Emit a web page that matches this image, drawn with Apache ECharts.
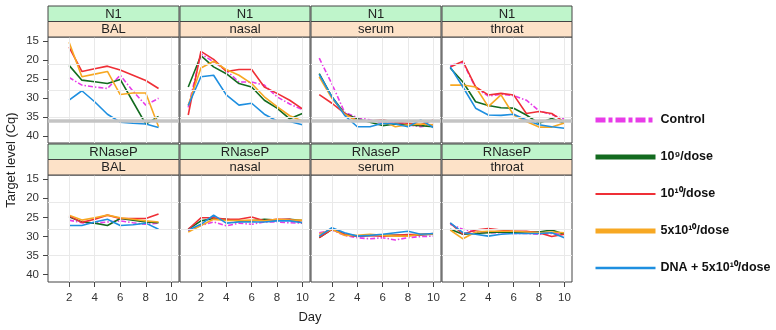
<!DOCTYPE html>
<html>
<head>
<meta charset="utf-8">
<title>Target level by day</title>
<script src="https://cdn.jsdelivr.net/npm/echarts@6/dist/echarts.min.js"></script>
<style>
  html, body { margin: 0; padding: 0; background: #fff; }
  #main { width: 776px; height: 330px; }
</style>
</head>
<body>
<div id="main"></div>
<script>
// data
var days = [1, 2, 3, 4, 5, 6, 7, 8, 9, 10];
var groups = ['Control', '10⁹/dose', '10¹⁰/dose', '5x10¹⁰/dose', 'DNA + 5x10¹⁰/dose'];
var targets = ['N1', 'RNaseP'];
var sites = ['BAL', 'nasal', 'serum', 'throat'];
var xTicks = [2, 4, 6, 8, 10];
var yTicks = [15, 20, 25, 30, 35, 40];
var hGrid = [21, 28, 35];
var lod = 36;

// rows: Control, 10^9, 10^10, 5x10^10, DNA + 5x10^10
var n1Bal = [
    [null, 24.6, 26.6, 27.1, 27.5, 24.0, 28.2, 31.9, 30.1, null],
    [null, 21.4, 25.3, 25.7, 26.2, 25.1, 31.0, 36.9, 34.9, null],
    [null, 16.6, 23.0, 22.3, 21.6, 22.6, 24.0, 25.4, 27.5, null],
    [null, 15.3, 24.4, 23.7, 23.0, 29.1, 28.7, 28.7, 37.6, null],
    [null, 30.6, 28.1, 31.0, 34.3, 36.4, 36.7, 36.9, 37.8, null]
];
var n1Nasal = [
    [32.5, 18.3, 20.5, 22.7, 25.8, 25.8, 26.6, 29.7, 31.6, 33.1],
    [27.1, 18.8, 21.8, 23.6, 26.2, 27.1, 30.6, 32.7, 35.5, 34.1],
    [34.5, 17.7, 19.8, 23.0, 22.5, 22.5, 27.1, 28.8, 30.6, 32.9],
    [31.9, 22.1, 20.3, 22.5, 24.0, 26.2, 29.7, 32.3, 34.7, 36.1],
    [32.0, 24.4, 24.0, 29.2, 31.9, 31.4, 34.3, 36.1, 36.2, 37.1]
];
var n1Serum = [
    [19.5, 26.3, 33.8, 35.2, 35.8, 36.7, 36.4, 37.1, 37.6, 37.0],
    [23.6, 29.7, 34.1, 35.5, 36.4, 37.3, 36.9, 37.1, 37.3, 37.6],
    [29.1, 31.4, 34.1, 36.1, 36.1, 35.8, 36.4, 36.7, 37.1, 35.8],
    [24.4, 30.1, 34.3, 36.1, 36.1, 36.1, 37.6, 37.1, 36.9, 37.1],
    [23.8, 29.7, 34.6, 37.6, 37.6, 36.7, 36.9, 37.6, 35.8, 37.8]
];
var n1Throat = [
    [21.4, 20.6, 27.3, 29.5, 29.0, 29.4, 30.6, 33.4, 34.4, 35.6],
    [22.1, 25.8, 31.0, 32.0, 32.6, 32.7, 34.5, 36.7, 35.4, 36.7],
    [21.8, 20.3, 27.1, 29.2, 28.8, 29.2, 34.1, 33.6, 34.1, 36.4],
    [26.6, 26.6, 27.1, 32.3, 29.2, 34.5, 36.2, 37.7, 37.7, 36.6],
    [21.8, 27.1, 32.7, 34.5, 34.6, 34.3, 35.8, 37.1, 37.6, 38.0]
];
var rnBal = [
    [null, 25.7, 26.4, 26.5, 26.2, 25.9, 26.4, 26.8, 26.5, null],
    [null, 24.8, 26.2, 26.5, 27.1, 25.3, 25.7, 26.2, 26.4, null],
    [null, 24.6, 26.3, 25.5, 24.4, 25.3, 25.3, 25.3, 24.1, null],
    [null, 24.4, 25.7, 25.1, 24.4, 25.1, 25.5, 25.9, 26.2, null],
    [null, 27.1, 27.1, 26.2, 25.5, 27.1, 26.9, 26.5, 28.1, null]
];
var rnNasal = [
    [28.5, 27.1, 26.2, 27.2, 26.5, 26.8, 26.2, 26.2, 26.4, 26.5],
    [28.1, 25.9, 25.3, 25.5, 25.9, 25.9, 25.5, 25.7, 25.5, 25.8],
    [28.1, 25.1, 25.1, 25.5, 25.5, 24.9, 25.9, 25.5, 25.5, 26.4],
    [28.8, 27.1, 25.5, 25.8, 25.8, 25.7, 25.9, 25.5, 25.7, 25.7],
    [28.3, 26.8, 24.4, 26.5, 26.2, 26.2, 26.2, 25.9, 25.9, 26.4]
];
var rnSerum = [
    [29.0, 28.3, 29.7, 30.3, 30.6, 30.3, 30.9, 30.3, 30.0, 29.9],
    [30.3, 28.1, 29.4, 29.9, 29.7, 29.7, 29.7, 29.7, 29.5, 29.4],
    [30.3, 28.1, 29.4, 30.0, 29.7, 29.9, 29.7, 29.5, 29.5, 29.2],
    [29.4, 28.1, 29.7, 29.7, 29.4, 29.7, 29.9, 29.9, 29.4, 29.3],
    [29.9, 27.7, 29.0, 29.9, 29.7, 29.4, 29.0, 28.6, 29.4, 29.2]
];
var rnThroat = [
    [26.8, 28.1, 28.8, 29.0, 29.0, 29.2, 29.2, 29.4, 29.2, 29.5],
    [28.1, 29.4, 29.2, 29.0, 28.8, 29.0, 28.8, 28.8, 28.3, 29.4],
    [26.5, 29.4, 28.3, 27.9, 28.3, 28.6, 28.6, 29.0, 30.0, 29.4],
    [28.3, 30.6, 28.8, 28.6, 28.6, 28.6, 28.8, 29.0, 28.8, 29.0],
    [26.4, 29.0, 29.4, 29.9, 29.4, 29.2, 29.2, 29.2, 29.0, 30.3]
];

var panels = [
    [n1Bal, n1Nasal, n1Serum, n1Throat],
    [rnBal, rnNasal, rnSerum, rnThroat]
];

// look
var colors = ['#e83ce8', '#136b1f', '#ef2f36', '#f7a823', '#1e8fe0'];
var widths = [1.6, 1.6, 1.6, 1.6, 1.6];
var dashes = [[5, 2, 1.5, 2], 'solid', 'solid', 'solid', 'solid'];
var legendWidths = [5, 5, 2, 5, 2.5];
var legendDashes = [[10, 3, 4, 3], 'solid', 'solid', 'solid', 'solid'];

var colLeft = [48, 180, 311, 442];
var colWidth = [131, 130, 130, 130];
var rowTop = [37, 175];
var rowHeight = [106, 107];
var stripH = 15.5;
var font = 'Liberation Sans, Arial, sans-serif';

var myChart = echarts.init(document.getElementById('main'));

var grid = [], xAxis = [], yAxis = [], series = [], graphic = [];

for (var r = 0; r < 2; r++) {
    for (var c = 0; c < 4; c++) {
        var k = r * 4 + c;
        grid.push({
            left: colLeft[c], top: rowTop[r], width: colWidth[c], height: rowHeight[r],
            show: true, backgroundColor: '#fff', borderColor: '#444', borderWidth: 1
        });
        xAxis.push({
            gridIndex: k, type: 'value', min: 0.35, max: 10.6,
            axisLine: { show: false },
            axisTick: { show: r === 1, customValues: xTicks, length: 5, lineStyle: { color: '#444' } },
            axisLabel: { show: r === 1, customValues: xTicks, color: '#333', fontSize: 11.5, fontFamily: font, margin: 10 },
            splitLine: { show: false }
        });
        yAxis.push({
            gridIndex: k, type: 'value', inverse: true, min: 13.9, max: 41.9,
            axisLine: { show: false },
            axisTick: { show: c === 0, customValues: yTicks, length: 5, lineStyle: { color: '#444' } },
            axisLabel: { show: c === 0, customValues: yTicks, color: '#333', fontSize: 11.5, fontFamily: font, margin: 9 },
            splitLine: { show: false }
        });

        // background grid lines and detection limit
        var ml = [];
        xTicks.forEach(function (t) { ml.push({ xAxis: t, lineStyle: { color: '#e9e9e9', width: 1, type: 'solid' } }); });
        hGrid.forEach(function (t) { ml.push({ yAxis: t, lineStyle: { color: '#e9e9e9', width: 1, type: 'solid' } }); });
        if (r === 0) ml.push({ yAxis: lod, lineStyle: { color: '#c4c4c4', width: 3.5, type: 'solid' } });
        series.push({
            type: 'line', xAxisIndex: k, yAxisIndex: k, data: [], z: 1, silent: true,
            markLine: { silent: true, symbol: 'none', label: { show: false }, animation: false, data: ml }
        });

        var block = panels[r][c];
        for (var g = 0; g < groups.length; g++) {
            series.push({
                name: groups[g], type: 'line', xAxisIndex: k, yAxisIndex: k, z: 3,
                symbol: 'none', connectNulls: false, animation: false,
                data: days.map(function (d, i) { return [d, block[g][i]]; }),
                lineStyle: { color: colors[g], width: widths[g], type: dashes[g] },
                itemStyle: { color: colors[g] }
            });
        }

        // strips
        var top0 = rowTop[r] - 2 * stripH;
        graphic.push({
            type: 'rect', shape: { x: colLeft[c], y: top0, width: colWidth[c], height: stripH },
            style: { fill: '#bff5cb', stroke: '#444', lineWidth: 1 }, z: 10
        });
        graphic.push({
            type: 'rect', shape: { x: colLeft[c], y: top0 + stripH, width: colWidth[c], height: stripH },
            style: { fill: '#fde2c8', stroke: '#444', lineWidth: 1 }, z: 10
        });
        graphic.push({
            type: 'text', x: colLeft[c] + colWidth[c] / 2, y: top0 + stripH / 2 + 0.5, z: 11,
            style: { text: targets[r], fill: '#222', font: '13px ' + font, textAlign: 'center', textVerticalAlign: 'middle' }
        });
        graphic.push({
            type: 'text', x: colLeft[c] + colWidth[c] / 2, y: top0 + stripH * 1.5 + 0.5, z: 11,
            style: { text: sites[c], fill: '#222', font: '13px ' + font, textAlign: 'center', textVerticalAlign: 'middle' }
        });
    }
}

graphic.push({
    type: 'text', x: 11, y: 160, rotation: Math.PI / 2,
    style: { text: 'Target level (Cq)', fill: '#222', font: '13px ' + font, textAlign: 'center', textVerticalAlign: 'middle' }
});
graphic.push({
    type: 'text', x: 310, y: 317,
    style: { text: 'Day', fill: '#222', font: '13px ' + font, textAlign: 'center', textVerticalAlign: 'middle' }
});

var option = {
    backgroundColor: '#fff',
    animation: false,
    grid: grid,
    xAxis: xAxis,
    yAxis: yAxis,
    legend: {
        orient: 'vertical', left: 588, top: 107,
        itemWidth: 60, itemHeight: 12, itemGap: 21,
        itemStyle: { opacity: 0 },
        textStyle: { fontSize: 12.5, fontWeight: 'bold', color: '#111', fontFamily: font, lineHeight: 16 },
        data: groups.map(function (name, g) {
            return {
                name: name,
                itemStyle: { opacity: 0 },
                lineStyle: { width: legendWidths[g], type: legendDashes[g], color: colors[g] }
            };
        })
    },
    graphic: graphic,
    series: series
};

myChart.setOption(option);
window.addEventListener('resize', function () {
    myChart.resize();
});
</script>
</body>
</html>
